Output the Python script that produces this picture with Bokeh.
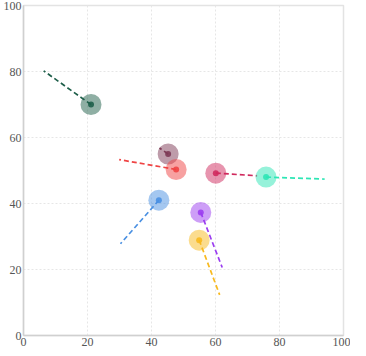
from bokeh.plotting import figure
from bokeh.models import ColumnDataSource, FixedTicker
from bokeh.embed import file_html
from bokeh.resources import INLINE

names = ["a", "b", "c", "d", "e", "f", "g", "h"]
x = [21.1, 45.2, 47.7, 60.1, 75.8, 42.3, 55.4, 54.9]
y = [70.0, 55.0, 50.3, 49.2, 48.0, 41.0, 37.3, 28.9]
x_end = [6.3, 42.5, 29.9, 73.0, 94.1, 30.3, 62.1, 61.3]
y_end = [80.2, 56.8, 53.3, 48.4, 47.4, 27.8, 20.6, 12.3]
colors = ["#1f5f4a", "#7d3a55", "#ef4444", "#d02a5e", "#2ee6b5",
          "#4a90e2", "#9b3df0", "#f8b91e"]

src = ColumnDataSource(dict(x=x, y=y, xe=x_end, ye=y_end, c=colors))

p = figure(width=350, height=348, x_range=(0, 100), y_range=(0, 100),
           output_backend="svg", toolbar_location=None,
           min_border_left=0, min_border_right=7, min_border_top=5, min_border_bottom=0)
p.outline_line_color = "#e3e3e3"
p.outline_line_width = 1.5
font = "Liberation Serif"
for ax in (p.xaxis, p.yaxis):
    ax.ticker = FixedTicker(ticks=[0, 20, 40, 60, 80, 100])
    ax.axis_line_color = "#d0d0d0"
    ax.axis_line_width = 1.5
    ax.major_tick_line_color = None
    ax.minor_tick_line_color = None
    ax.major_tick_out = 0
    ax.major_tick_in = 0
    ax.minor_tick_out = 0
    ax.minor_tick_in = 0
    ax.major_label_text_font = font
    ax.major_label_text_font_size = "12px"
    ax.major_label_text_color = "#555555"
    ax.major_label_standoff = 2
for g in (p.xgrid, p.ygrid):
    g.grid_line_color = "#e6e6e6"
    g.grid_line_dash = "2 2"
    g.grid_line_width = 1

p.segment(x0="x", y0="y", x1="xe", y1="ye", source=src, line_color="c",
          line_width=1.7, line_dash="5 3")
p.scatter(x="x", y="y", source=src, size=21, fill_color="c", fill_alpha=0.5,
          line_color=None)
p.scatter(x="x", y="y", source=src, size=6, fill_color="c", fill_alpha=0.9,
          line_color=None)

open("out.html", "w").write(file_html(p, INLINE))
